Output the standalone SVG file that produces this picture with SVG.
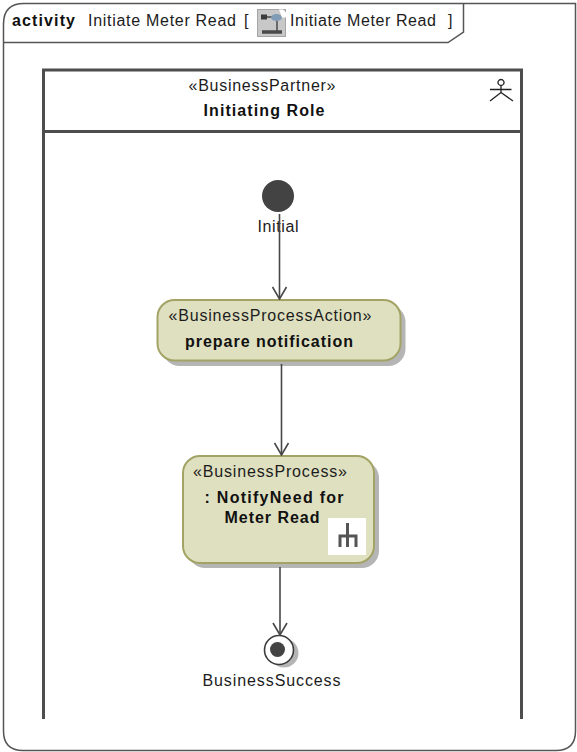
<svg xmlns="http://www.w3.org/2000/svg" width="577" height="752" viewBox="0 0 577 752">
<style>
text{font-family:"Liberation Sans",Arial,sans-serif;font-size:16px;fill:#1c1c1c}
.b{font-weight:bold;fill:#111}
.m{text-anchor:middle}
.act{fill:#dfe0c0;stroke:#a3a366;stroke-width:2}
.sh{fill:#b5b5b5}
.c{fill:none;stroke:#474747;stroke-width:1.6}
</style>
<defs>
<marker id="open" viewBox="0 0 14 16" markerWidth="14" markerHeight="16" refX="13" refY="8" orient="auto" markerUnits="userSpaceOnUse">
<path d="M1 1L13 8L1 15" fill="none" stroke="#474747" stroke-width="1.6"/>
</marker>
</defs>
<rect width="577" height="752" fill="#fff"/>
<g id="frame">
<path d="M3.5 24Q3.5 3.500 24 3.500H575.500V731Q575.500 750.500 556 750.500H23Q3.500 750.500 3.500 731Z" fill="none" stroke="#555" stroke-width="1.500"/>
<path d="M3.500 42.500H448L463.500 32V3.500" fill="none" stroke="#555" stroke-width="1.500"/>
<text x="12" y="26" class="b" textLength="63">activity</text>
<text x="88" y="26" textLength="148">Initiate Meter Read</text>
<text x="244" y="26">[</text>
<g id="frame-icon">
<rect x="257.500" y="9.500" width="28" height="27" fill="#c8c8c8" stroke="#a5a5a5"/>
<path d="M266 17H272M277 21V31" stroke="#4a4a4a" stroke-width="1.500" fill="none"/>
<path d="M262 32H282" stroke="#4a4a4a" stroke-width="3.500" fill="none"/>
<rect x="261" y="14.500" width="6" height="5" fill="#3a3a3a"/>
<ellipse cx="276.500" cy="17.500" rx="5.500" ry="3.500" fill="#7f9bb5"/>
<path d="M279 9.500h4l3 3v5h-4z" fill="#fff"/>
</g>
<text x="290" y="26" textLength="146">Initiate Meter Read</text>
<text x="448" y="26">]</text>
</g>
<g id="swimlane">
<path d="M43.500 719V70H521.500V719M43.500 131.500H521.500" fill="none" stroke="#4d4d4d" stroke-width="3"/>
<text x="262" y="91" class="m" textLength="147">«BusinessPartner»</text>
<text x="264" y="116" class="b m" textLength="121">Initiating Role</text>
<path d="M501 79.500a3 3 0 1 0 .01 0M501 85.500V92.500M490 89.500H511.500M501 92.500L490 101M501 92.500L513 101" fill="none" stroke="#222" stroke-width="1.300"/>
</g>
<g id="initial">
<circle cx="278" cy="196" r="16" fill="#434343"/>
<text x="278" y="232" class="m" textLength="41">Initial</text>
</g>
<g id="prepare-notification">
<rect x="162.500" y="305" width="243" height="61" rx="17" class="sh"/>
<rect x="157.500" y="300" width="243" height="60.500" rx="17" class="act"/>
<text x="270" y="321" class="m" textLength="203">«BusinessProcessAction»</text>
<text x="269" y="347" class="b m" textLength="168">prepare notification</text>
</g>
<g id="notify-need">
<rect x="188" y="461" width="191" height="107" rx="17" class="sh"/>
<rect x="183" y="456" width="191" height="107" rx="17" class="act"/>
<text x="270" y="477" class="m" textLength="154">«BusinessProcess»</text>
<text x="274" y="503" class="b m" textLength="139">: NotifyNeed for</text>
<text x="272" y="523" class="b m" textLength="95">Meter Read</text>
<rect x="328" y="518" width="38" height="37" fill="#fff"/>
<path d="M347.500 523V547M340 547V536H356V547" fill="none" stroke="#555" stroke-width="3"/>
</g>
<g id="business-success">
<circle cx="284" cy="653" r="14.500" fill="#b5b5b5"/>
<circle cx="279" cy="650" r="14.500" fill="#fff" stroke="#3c3c3c" stroke-width="1.600"/>
<circle cx="277.500" cy="649.500" r="7.500" fill="#434343"/>
<text x="271.500" y="686" class="m" textLength="138">BusinessSuccess</text>
</g>
<g id="connectors">
<path d="M279.500 214V299" class="c" marker-end="url(#open)"/>
<path d="M281.500 364V455" class="c" marker-end="url(#open)"/>
<path d="M280 567V635" class="c" marker-end="url(#open)"/>
</g>
</svg>
